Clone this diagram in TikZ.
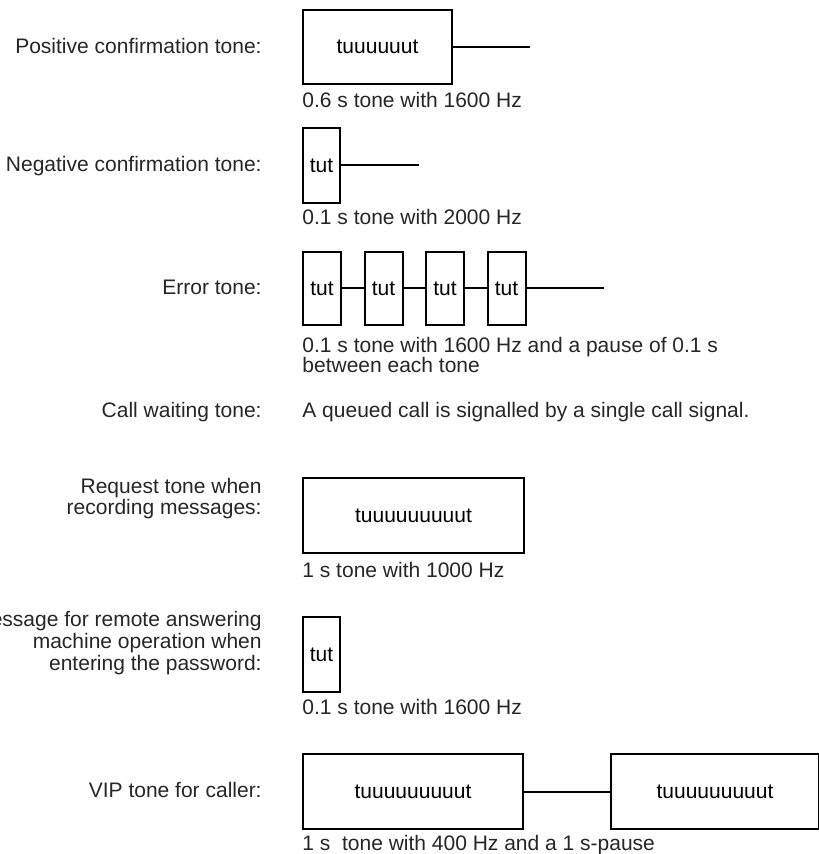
\documentclass[tikz,border=0pt]{standalone}
\usepackage{fontspec}
\setmainfont{Liberation Sans}
\usetikzlibrary{positioning}

\begin{document}
\begin{tikzpicture}[x=0.5pt,y=-0.5pt,
  lbl/.style={anchor=base east,inner sep=0,text=black!85,font=\fontsize{10.5}{10.5}\selectfont},
  lblm/.style={anchor=east,inner sep=0,align=right,text=black!85},
  capt/.style={anchor=base west,inner sep=0,text=black!85,font=\fontsize{10.5}{10.5}\selectfont},
  captm/.style={anchor=north west,inner sep=0,align=left,text=black!85,font=\fontsize{10.5}{10}\selectfont},
  tbox/.style={draw,line width=1pt,anchor=north west,inner sep=0,font=\fontsize{10.5}{10.5}\selectfont},
  wire/.style={line width=1pt}]
\useasboundingbox (0,0) rectangle (818,854);

% positive confirmation tone
\node[lbl] (l1) at (262,53.5) {Positive confirmation tone:};
\node[tbox,minimum width=74.5pt,minimum height=37pt] (pos) at (302,9) {tuuuuuut};
\coordinate[right=38.5pt of pos.east] (pos-e);
\draw[wire] (pos.east) -- (pos-e);
\node[capt] (c1) at (302,108) {0.6 s tone with 1600 Hz};

% negative confirmation tone
\node[lbl] (l2) at (262,172) {Negative confirmation tone:};
\node[tbox,minimum width=18.5pt,minimum height=37.5pt] (neg) at (302,127) {tut};
\coordinate[right=39pt of neg.east] (neg-e);
\draw[wire] (neg.east) -- (neg-e);
\node[capt] (c2) at (302,225) {0.1 s tone with 2000 Hz};

% error tone
\node[lbl] (l3) at (262,295) {Error tone:};
\foreach \i in {0,...,3}{
  \node[tbox,minimum width=19pt,minimum height=36.5pt] (e\i) at (302+\i*61.5,251) {tut};
}
\coordinate[right=38.75pt of e3.east] (e-e);
\draw[wire] (e0) -- (e1) (e1) -- (e2) (e2) -- (e3) (e3.east) -- (e-e);
\node[captm] (c3) at (302,337) {0.1 s tone with 1600 Hz and a pause of 0.1 s\\between each tone};

% call waiting tone
\node[lbl] (l4) at (262,417.5) {Call waiting tone:};
\node[capt] (c4) at (302,417.5) {A queued call is signalled by a single call signal.};

% request tone
\node[lblm,font=\fontsize{10.5}{9.5}\selectfont] (l5) at (262,498.5) {Request tone when\\recording messages:};
\node[tbox,minimum width=110.5pt,minimum height=37.5pt] (req) at (302,477) {tuuuuuuuuut};
\node[capt] (c5) at (302,577.5) {1 s tone with 1000 Hz};

% remote answering machine
\node[lblm,font=\fontsize{10.5}{9}\selectfont] (l6) at (262,643) {Message for remote answering\\machine operation when\\entering the password:};
\node[tbox,minimum width=18.5pt,minimum height=37.5pt] (rem) at (302,616) {tut};
\node[capt] (c6) at (302,714.5) {0.1 s tone with 1600 Hz};

% VIP tone
\node[lbl] (l7) at (262,797.5) {VIP tone for caller:};
\node[tbox,minimum width=110pt,minimum height=37.5pt] (vip1) at (302,753) {tuuuuuuuuut};
\node[tbox,minimum width=104pt,minimum height=37.5pt,right=43pt of vip1] (vip2) {tuuuuuuuuut};
\draw[wire] (vip1) -- (vip2);
\node[capt] (c7) at (302,850) {1 s~ tone with 400 Hz and a 1 s-pause};
\end{tikzpicture}
\end{document}
